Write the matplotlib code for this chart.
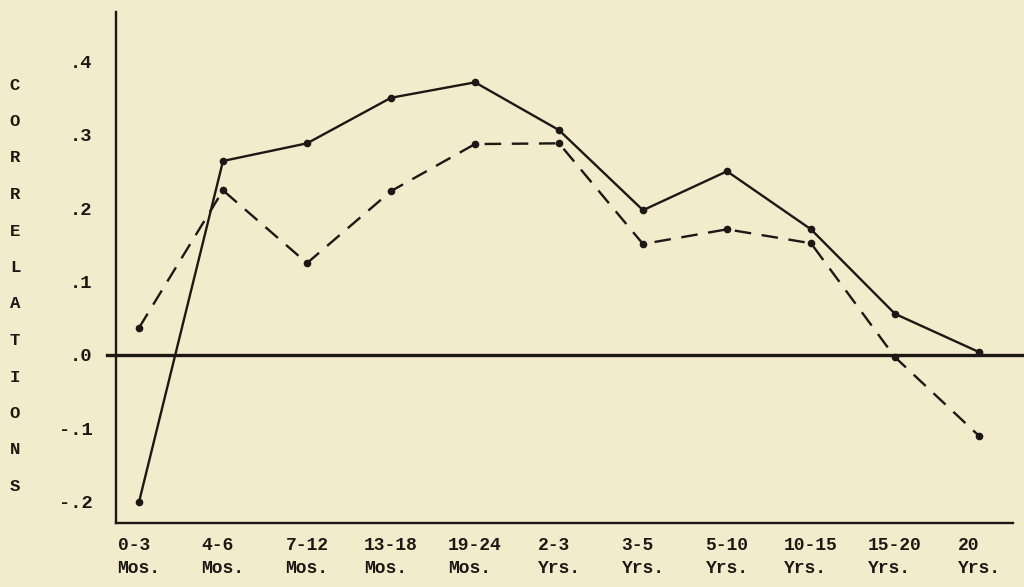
import matplotlib
matplotlib.use("Agg")
import matplotlib.pyplot as plt

# ---- data ----
age_groups = ["0-3\nMos.", "4-6\nMos.", "7-12\nMos.", "13-18\nMos.", "19-24\nMos.",
              "2-3\nYrs.", "3-5\nYrs.", "5-10\nYrs.", "10-15\nYrs.", "15-20\nYrs.", "20\nYrs."]
solid_series = [-0.20, 0.264, 0.288, 0.350, 0.371, 0.306, 0.197, 0.250, 0.171, 0.056, 0.004]
dashed_series = [0.037, 0.224, 0.125, 0.223, 0.287, 0.288, 0.151, 0.171, 0.152, -0.003, -0.110]
y_ticks = [-0.2, -0.1, 0.0, 0.1, 0.2, 0.3, 0.4]
y_tick_labels = ["-.2", "-.1", ".0", ".1", ".2", ".3", ".4"]
y_title = "CORRELATIONS"

bg = "#f2ebcc"
ink = "#1c1814"
mono = ["Liberation Mono", "DejaVu Sans Mono"]

fig = plt.figure(figsize=(10.24, 5.87), dpi=100, facecolor=bg)
ax = fig.add_axes([116/1024, 1-523/587, (1013-116)/1024, (523-12)/587])
ax.set_facecolor(bg)

x = list(range(len(age_groups)))
ax.plot(x, solid_series, color=ink, lw=1.7, marker="o", ms=4.5, zorder=3)
ax.plot(x, dashed_series, color=ink, lw=1.7, linestyle=(0, (7, 4.5)),
        marker="o", ms=4.5, zorder=3)

# zero line extending beyond the axes
ax.plot([-0.01, 1.02], [0, 0], transform=ax.get_yaxis_transform(), color=ink,
        lw=2.4, clip_on=False, zorder=2)

ax.set_xlim(-0.274, 10.405)
ax.set_ylim(-0.2286, 0.4667)

for s in ["top", "right"]:
    ax.spines[s].set_visible(False)
for s in ["left", "bottom"]:
    ax.spines[s].set_color(ink)
    ax.spines[s].set_linewidth(1.7)

ax.set_xticks(x)
ax.set_xticklabels(age_groups, fontfamily=mono, fontsize=13, fontweight="bold",
                   color=ink, linespacing=1.45, multialignment="left")
ax.set_yticks(y_ticks)
ax.set_yticklabels(y_tick_labels, fontfamily=mono, fontsize=13.5, fontweight="bold",
                   color=ink)
ax.tick_params(axis="both", length=0)
ax.tick_params(axis="y", pad=17)
ax.tick_params(axis="x", pad=10)

# vertical spelled-out axis title
for i, ch in enumerate(y_title):
    fig.text(15/1024, 1-(85+i*36.5)/587, ch, fontfamily=mono, fontsize=12.5,
             fontweight="bold", color=ink, ha="center", va="center")

fig.savefig("out.png", dpi=100, facecolor=bg)
